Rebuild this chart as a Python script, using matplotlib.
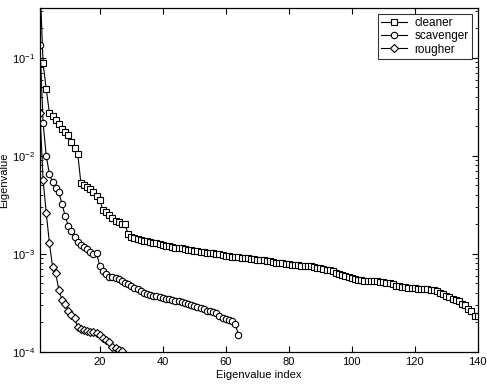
import numpy as np
import matplotlib
matplotlib.use("Agg")
import matplotlib.pyplot as plt
from matplotlib.ticker import LogLocator, NullFormatter

plt.rcParams['font.family'] = ['Liberation Sans', 'DejaVu Sans']
plt.rcParams['mathtext.fontset'] = 'custom'
plt.rcParams['mathtext.rm'] = 'Liberation Sans'
plt.rcParams['mathtext.it'] = 'Liberation Sans'

# eigenvalues (cleaner and scavenger in 1e-3, rougher in 1e-4)
cleaner = np.array([
    600, 87.5, 48, 27.5, 25.6, 23.3, 21.2, 19.0, 17.6, 16.4,
    13.9, 12.1, 10.5, 5.3, 5.06, 4.83, 4.56, 4.3, 3.9, 3.56,
    2.8, 2.68, 2.5, 2.33, 2.17, 2.1, 2.02, 2.0, 1.6, 1.47,
    1.45, 1.43, 1.40, 1.36, 1.34, 1.32, 1.30, 1.28, 1.25, 1.23,
    1.21, 1.20, 1.18, 1.16, 1.15, 1.14, 1.12, 1.10, 1.09, 1.07,
    1.06, 1.05, 1.04, 1.03, 1.02, 1.01, 1.00, 0.99, 0.97, 0.96,
    0.95, 0.94, 0.93, 0.92, 0.915, 0.91, 0.90, 0.89, 0.88, 0.875,
    0.87, 0.86, 0.85, 0.84, 0.83, 0.815, 0.81, 0.80, 0.79, 0.78,
    0.775, 0.77, 0.765, 0.76, 0.757, 0.755, 0.75, 0.735, 0.72, 0.71,
    0.70, 0.69, 0.68, 0.67, 0.64, 0.625, 0.61, 0.59, 0.575, 0.565,
    0.555, 0.545, 0.54, 0.535, 0.53, 0.528, 0.526, 0.523, 0.52, 0.518,
    0.51, 0.50, 0.49, 0.475, 0.47, 0.46, 0.455, 0.45, 0.447, 0.445,
    0.442, 0.44, 0.438, 0.435, 0.43, 0.425, 0.415, 0.40, 0.39, 0.375,
    0.36, 0.35, 0.34, 0.33, 0.31, 0.30, 0.275, 0.26, 0.235, 0.232,
]) * 1e-3

scavenger = np.array([
    136, 21.7, 10.0, 6.55, 5.35, 4.75, 4.23, 3.24, 2.44, 1.93,
    1.72, 1.49, 1.326, 1.235, 1.165, 1.125, 1.048, 1.0, 1.012, 0.754,
    0.671, 0.625, 0.583, 0.583, 0.569, 0.549, 0.530, 0.506, 0.489, 0.466,
    0.450, 0.434, 0.419, 0.403, 0.394, 0.384, 0.375, 0.368, 0.360, 0.354,
    0.349, 0.343, 0.338, 0.333, 0.327, 0.320, 0.313, 0.307, 0.302, 0.295,
    0.288, 0.281, 0.272, 0.262, 0.259, 0.253, 0.247, 0.233, 0.222, 0.217,
    0.212, 0.207, 0.194, 0.149,
]) * 1e-3

rougher = np.array([
    275, 56.9, 26.2, 13.0, 7.41, 6.35, 4.29, 3.39, 3.09, 2.64,
    2.39, 2.21, 1.79, 1.70, 1.68, 1.65, 1.61, 1.60, 1.55, 1.49,
    1.38, 1.33, 1.27, 1.13, 1.09, 1.05, 1.01, 0.91,
]) * 1e-4

series = [("cleaner", cleaner, "s", 4.3), ("scavenger", scavenger, "o", 4.6),
          ("rougher", rougher, "D", 3.6)]

fig = plt.figure(figsize=(4.87, 3.91), dpi=100)
ax = fig.add_axes([0.082, 0.1, 0.899, 0.88])

for name, vals, mk, ms in series:
    idx = np.arange(1, len(vals) + 1)
    ax.semilogy(idx, vals, color='black', linewidth=0.8, marker=mk,
                markersize=ms, markerfacecolor='white',
                markeredgecolor='black', markeredgewidth=0.8, label=name)

ax.set_xlim(1, 140)
ax.set_ylim(1e-4, 10 ** -0.49)
ax.set_xticks([20, 40, 60, 80, 100, 120, 140])
ax.yaxis.set_major_locator(LogLocator(base=10, numticks=10))
ax.yaxis.set_minor_locator(LogLocator(base=10, subs=np.arange(2, 10), numticks=20))
ax.yaxis.set_minor_formatter(NullFormatter())
ax.tick_params(which='both', direction='in', top=True, right=True, labelsize=8)
ax.tick_params(which='major', length=4)
ax.tick_params(which='minor', length=2)
for s in ax.spines.values():
    s.set_linewidth(0.9)

ax.set_xlabel('Eigenvalue index', fontsize=8, labelpad=2)
ax.set_ylabel('Eigenvalue', fontsize=8, labelpad=2)

leg = ax.legend(loc='upper right', fontsize=8.5, frameon=True, fancybox=False,
                edgecolor='black', handlelength=2.2, borderpad=0.3,
                labelspacing=0.1, handletextpad=0.6, borderaxespad=0.5)
leg.get_frame().set_linewidth(0.8)

fig.savefig('out.png', dpi=100)
